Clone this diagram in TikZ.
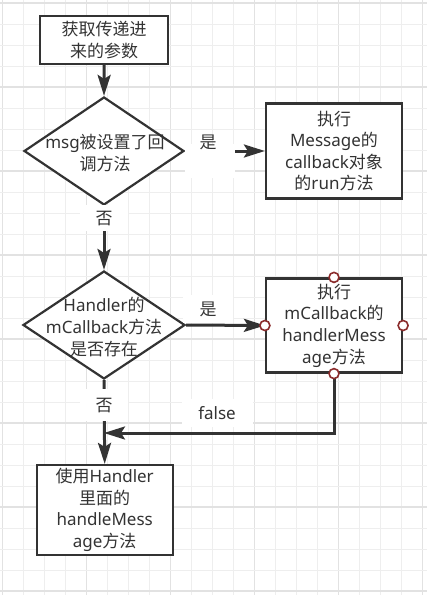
\documentclass[tikz,border=0pt]{standalone}
\usepackage{fontspec}
\setmainfont{Noto Sans}
\newfontfamily\cjkfont{Noto Sans CJK SC}
\newcommand{\zh}[1]{{\cjkfont #1}}
\usetikzlibrary{arrows.meta,shapes.geometric}
\definecolor{ink}{HTML}{333333}
\definecolor{gridminor}{HTML}{EEEEEE}
\definecolor{gridmajor}{HTML}{E2E2E2}
\definecolor{portred}{HTML}{8B2C2C}
\begin{document}
\begin{tikzpicture}[x=1pt,y=-1pt,
  every node/.style={text=ink,font=\fontsize{17}{21.6}\selectfont},
  procbox/.style={draw=ink,line width=2.2pt,fill=white,rectangle,inner sep=0pt,align=center},
  decision/.style={draw=ink,line width=2.2pt,fill=white,diamond,inner sep=0pt,aspect=1.5},
  flow/.style={draw=ink,line width=3pt,-{Stealth[length=21pt,width=13pt,inset=4pt]}},
  edgelabel/.style={fill=white,inner sep=0pt,align=center},
  port/.style={circle,draw=portred,fill=white,line width=1.6pt,minimum size=10pt,inner sep=0pt}
]
\useasboundingbox (0,0) rectangle (427,595);
\fill[white] (0,0) rectangle (427,595);
% grid
\foreach \k in {0,...,20} {
  \pgfmathsetmacro{\xx}{2.3+21*\k}
  \pgfmathtruncatemacro{\mm}{mod(\k,4)}
  \ifnum\mm=0
    \draw[gridmajor,line width=1.2pt] (\xx,0) -- (\xx,595);
  \else
    \draw[gridminor,line width=1pt] (\xx,0) -- (\xx,595);
  \fi
}
\foreach \k in {0,...,28} {
  \pgfmathsetmacro{\yy}{3+21*\k}
  \pgfmathtruncatemacro{\mm}{mod(\k,4)}
  \ifnum\mm=0
    \draw[gridmajor,line width=1.2pt] (0,\yy) -- (427,\yy);
  \else
    \draw[gridminor,line width=1pt] (0,\yy) -- (427,\yy);
  \fi
}

% nodes
\node[procbox,minimum width=128pt,minimum height=48pt] (b1) at (104.2,40) {\zh{获取传递进}\\\zh{来的参数}};
\node[decision,minimum width=160pt,minimum height=108pt] (d1) at (104,151) {};
\node[align=center] (t1) at (105,153) {msg\zh{被设置了回}\\\zh{调方法}};
\node[procbox,minimum width=136pt,minimum height=95pt] (b2) at (334,151) {\zh{执行}\\Message\zh{的}\\callback\zh{对象}\\\zh{的}run\zh{方法}};
\node[decision,minimum width=162pt,minimum height=108pt] (d2) at (104,325) {};
\node[align=center] (t2) at (104,327) {Handler\zh{的}\\mCallback\zh{方法}\\\zh{是否存在}};
\node[procbox,minimum width=136pt,minimum height=94pt] (b3) at (334,325.5) {\zh{执行}\\mCallback\zh{的}\\handlerMess\\age\zh{方法}};
\node[procbox,minimum width=136pt,minimum height=90pt] (b4) at (104.7,510) {\zh{使用}Handler\\\zh{里面的}\\handleMess\\age\zh{方法}};
\coordinate (j) at (104,433);

% connectors
\draw[flow] (b1.south) -- (d1.north);
\draw[flow] (d1.east) -- (b2.west)
  node[edgelabel,pos=0.31,minimum width=50pt,minimum height=34pt,yshift=-10pt] (l1) {};
\node (l1t) at (208,142) {\zh{是}};
\draw[flow] (d1.south) -- (d2.north)
  node[edgelabel,pos=0.19,minimum width=48pt,minimum height=26pt] (l2) {\zh{否}};
\draw[flow] (d2.east) -- (b3.west);
\node[edgelabel,minimum width=50pt,minimum height=28pt] (l3) at (208,309) {\zh{是}};
\draw[flow] (d2.south) -- (b4.north)
  node[edgelabel,pos=0.30,minimum width=48pt,minimum height=32pt] (l4) {\zh{否}};
\draw[flow] (b3.south) |- (j);
\node[edgelabel,minimum width=71pt,minimum height=28pt] (l5) at (217,413) {false};

% connection points of b3
\node[port] (p1) at (b3.north) {};
\node[port] (p2) at (b3.west) {};
\node[port] (p3) at (b3.east) {};
\node[port] (p4) at (b3.south) {};
\end{tikzpicture}
\end{document}
